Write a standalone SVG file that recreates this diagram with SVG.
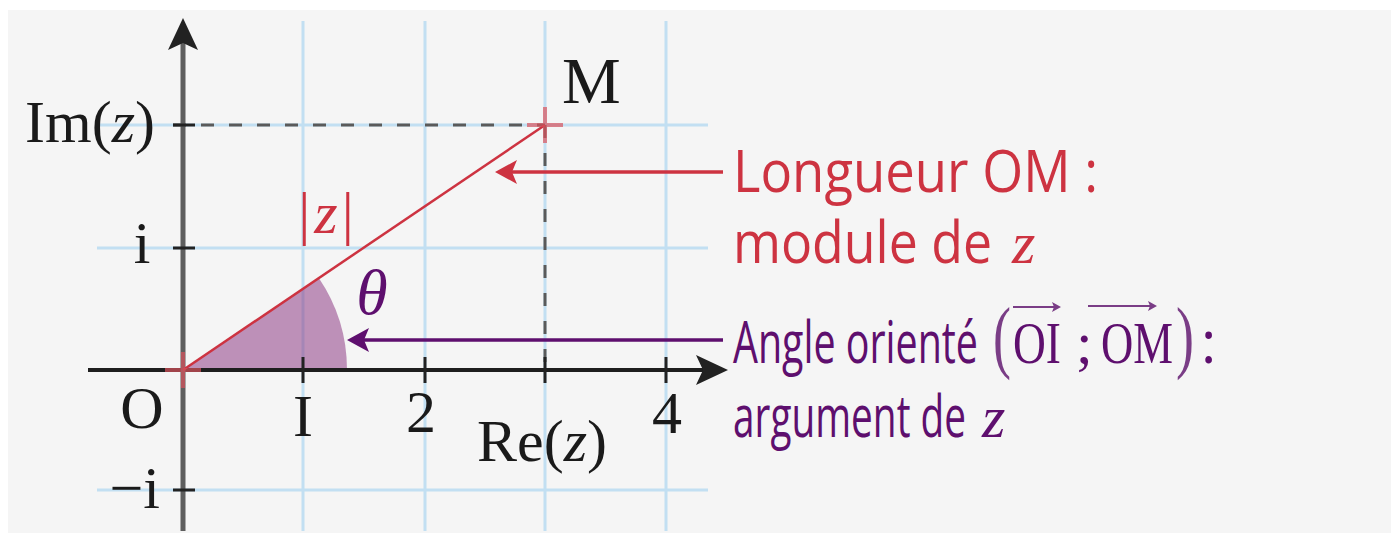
<svg xmlns="http://www.w3.org/2000/svg" width="1391" height="534" viewBox="0 0 1391 534">
<style>
.grid{stroke:#c2dff2;stroke-width:3;fill:none}
.dash{stroke:#5a5a5a;stroke-width:3;stroke-dasharray:13 15;fill:none}
.tick{stroke:#222;stroke-width:3}
.serif{font-family:"Liberation Serif","DejaVu Serif",serif;font-size:60px;fill:#1a1a1a}
.it{font-style:italic}
.sans{font-family:"Open Sans","Noto Sans","Liberation Sans",sans-serif;font-size:58px}
.red{fill:#cd3341}
.pur{fill:#5e0f6e}
.paren{fill:#7a3d86}
.cross{stroke:#d9525d;stroke-opacity:0.7;stroke-width:4}
</style>
<defs>
<marker id="ahAxis" markerUnits="userSpaceOnUse" markerWidth="40" markerHeight="40" refX="20" refY="16" orient="auto" overflow="visible">
<path d="M0,1 L32,16 L0,31 L7,16 Z" fill="#222"/>
</marker>
<marker id="ahRed" markerUnits="userSpaceOnUse" markerWidth="30" markerHeight="30" refX="10" refY="14" orient="auto" overflow="visible">
<path d="M0,2 L22,14 L0,26 L5,14 Z" fill="#cd3341"/>
</marker>
<marker id="ahPur" markerUnits="userSpaceOnUse" markerWidth="30" markerHeight="30" refX="10" refY="14" orient="auto" overflow="visible">
<path d="M0,2 L22,14 L0,26 L5,14 Z" fill="#5e0f6e"/>
</marker>
<marker id="ahVec" markerUnits="userSpaceOnUse" markerWidth="12" markerHeight="12" refX="4" refY="5" orient="auto" overflow="visible">
<path d="M0,0 L9,5 L0,10 L2,5 Z" fill="#7a3d86"/>
</marker>
</defs>
<rect x="8" y="10" width="1383" height="523" fill="#f5f5f5"/>
<g id="grid">
<line class="grid" x1="303" y1="21" x2="303" y2="531"/>
<line class="grid" x1="425" y1="21" x2="425" y2="531"/>
<line class="grid" x1="545" y1="21" x2="545" y2="531"/>
<line class="grid" x1="666" y1="21" x2="666" y2="531"/>
<line class="grid" x1="97" y1="125" x2="708" y2="125"/>
<line class="grid" x1="97" y1="248" x2="708" y2="248"/>
<line class="grid" x1="97" y1="490" x2="708" y2="490"/>
</g>
<g id="sector">
<path d="M183,370 L347,370 A164,164 0 0 0 318.8,278.1 Z" fill="#8e3d85" fill-opacity="0.55"/>
</g>
<g id="connectors">
<line class="dash" x1="173" y1="125" x2="545" y2="125"/>
<line class="dash" x1="545" y1="125" x2="545" y2="370"/>
<line x1="88" y1="370" x2="716" y2="370" stroke="#1e1e1e" stroke-width="4" marker-end="url(#ahAxis)"/>
<line x1="183" y1="531" x2="183" y2="30" stroke="#5e5e5e" stroke-width="5" marker-end="url(#ahAxis)"/>
<line class="tick" x1="303" y1="357" x2="303" y2="383"/>
<line class="tick" x1="425" y1="357" x2="425" y2="383"/>
<line class="tick" x1="545" y1="357" x2="545" y2="383"/>
<line class="tick" x1="666" y1="357" x2="666" y2="383"/>
<line class="tick" x1="173" y1="125" x2="195" y2="125"/>
<line class="tick" x1="173" y1="248" x2="195" y2="248"/>
<line class="tick" x1="173" y1="490" x2="195" y2="490"/>
<line x1="183" y1="370" x2="545" y2="125" stroke="#cd3341" stroke-width="2.5"/>
<line x1="723" y1="172" x2="507" y2="172" stroke="#cd3341" stroke-width="3.5" marker-end="url(#ahRed)"/>
<line x1="723" y1="340" x2="359" y2="340" stroke="#5e0f6e" stroke-width="3.5" marker-end="url(#ahPur)"/>
</g>
<g id="O">
<path class="cross" d="M165,370 H201 M183,352 V388"/>
<text class="serif" x="142" y="428" text-anchor="middle">O</text>
</g>
<g id="M">
<path class="cross" d="M527,125 H563 M545,107 V143"/>
<text class="serif" x="562" y="103" style="font-size:66px">M</text>
</g>
<g id="axis-labels">
<text class="serif" x="155" y="142" text-anchor="end">Im(<tspan class="it">z</tspan>)</text>
<text class="serif" x="142" y="263" text-anchor="middle">i</text>
<text class="serif" x="160" y="508" text-anchor="end">−i</text>
<text class="serif" x="303" y="436" text-anchor="middle">I</text>
<text class="serif" x="421" y="432" text-anchor="middle">2</text>
<text class="serif" x="667" y="433" text-anchor="middle">4</text>
<text class="serif" x="477" y="461">Re(<tspan class="it">z</tspan>)</text>
</g>
<g id="modulus-label">
<text class="serif red" x="328" y="233" text-anchor="middle" letter-spacing="4">|<tspan class="it">z</tspan>|</text>
</g>
<g id="theta-label">
<text class="serif it pur" x="372" y="314" text-anchor="middle" style="font-size:64px">θ</text>
</g>
<g id="module-note">
<text class="sans red" x="733" y="192" textLength="365" lengthAdjust="spacingAndGlyphs">Longueur OM :</text>
<text class="sans red" y="263"><tspan x="733" textLength="259" lengthAdjust="spacingAndGlyphs">module de</tspan><tspan x="1012" class="serif it red">z</tspan></text>
</g>
<g id="argument-note">
<text class="sans pur" x="733" y="363" textLength="245" lengthAdjust="spacingAndGlyphs">Angle orienté</text>
<text class="serif paren" transform="translate(993,363) scale(0.9,1.35)" x="0" y="0">(</text>
<text class="serif pur" y="363"><tspan x="1013" textLength="48" lengthAdjust="spacingAndGlyphs">OI</tspan><tspan x="1076">;</tspan><tspan x="1101" textLength="72" lengthAdjust="spacingAndGlyphs">OM</tspan></text>
<line x1="1013" y1="307" x2="1056" y2="307" stroke="#7a3d86" stroke-width="2" marker-end="url(#ahVec)"/>
<line x1="1088" y1="306" x2="1152" y2="306" stroke="#7a3d86" stroke-width="2" marker-end="url(#ahVec)"/>
<text class="serif paren" transform="translate(1176,363) scale(0.9,1.35)" x="0" y="0">)</text>
<text class="sans pur" x="1201" y="363">:</text>
<text class="sans pur" y="437"><tspan x="733" textLength="233" lengthAdjust="spacingAndGlyphs">argument de</tspan><tspan x="982" class="serif it pur">z</tspan></text>
</g>
</svg>
